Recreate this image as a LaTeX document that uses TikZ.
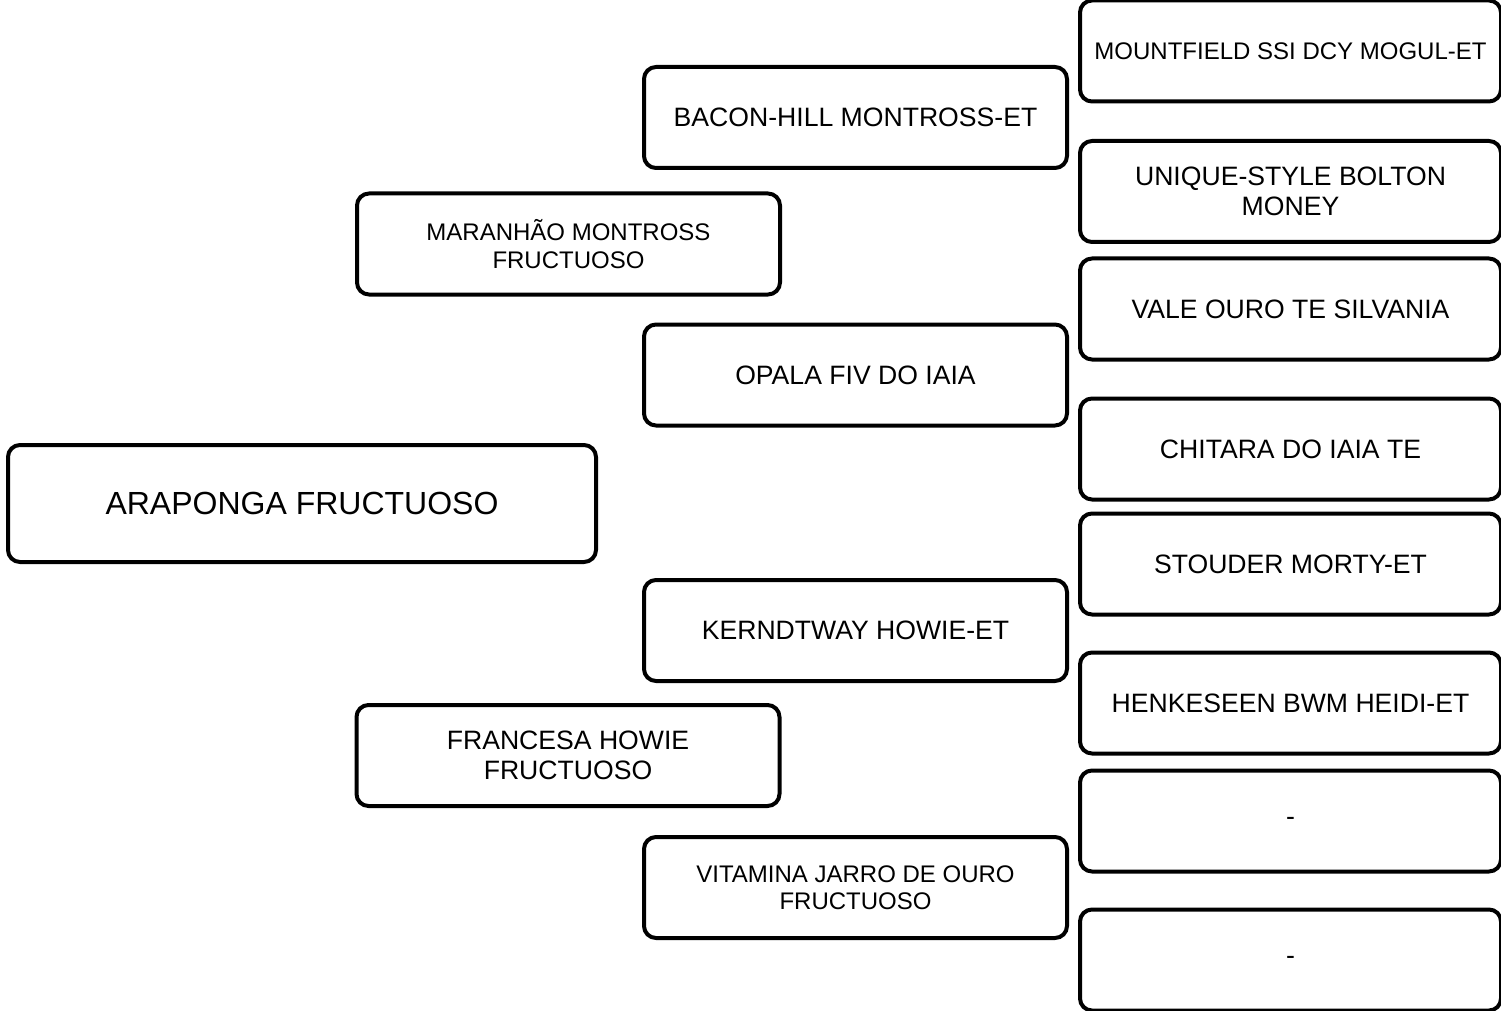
\documentclass[tikz,border=0pt]{standalone}
\usepackage{fontspec}
\setmainfont{Liberation Sans}
\usetikzlibrary{positioning}

\begin{document}
\begin{tikzpicture}[
		x=0.5pt, y=-0.5pt,
		animal/.style={draw=black, fill=white, rounded corners=6pt,
				line width=2pt, align=center, inner sep=2pt,
				minimum width=211.5pt, minimum height=50.5pt,
				font=\fontsize{13.3}{14.8}\selectfont},
		small/.style={font=\fontsize{12}{13.6}\selectfont},
		rootbox/.style={animal, minimum width=294pt, minimum height=58.5pt,
				font=\fontsize{16}{18}\selectfont},
	]
	\useasboundingbox (0,0) rectangle (1501,1011);

	% proband
	\node[rootbox] (araponga) at (302, 503.5) {ARAPONGA FRUCTUOSO};

	% parents
	\node[animal, small] (maranhao) at (568.5, 244) {MARANHÃO MONTROSS\\FRUCTUOSO};
	\node[animal] (francesa) at (568, 755.5) {FRANCESA HOWIE\\FRUCTUOSO};

	% grandparents
	\node[animal] (baconhill) at (855.5, 117.5) {BACON-HILL MONTROSS-ET};
	\node[animal] (opala) at (855.5, 375) {OPALA FIV DO IAIA};
	\node[animal] (kerndtway) at (855.5, 630.5) {KERNDTWAY HOWIE-ET};
	\node[animal, small] (vitamina) at (855.5, 887.5) {VITAMINA JARRO DE OURO\\FRUCTUOSO};

	% great-grandparents
	\node[animal, small, minimum width=210.5pt] (mountfield) at (1290.5, 51) {MOUNTFIELD SSI DCY MOGUL-ET};
	\node[animal, minimum width=210.5pt] (unique) at (1290.5, 191.5) {UNIQUE-STYLE BOLTON\\MONEY};
	\node[animal, minimum width=210.5pt] (vale) at (1290.5, 309) {VALE OURO TE SILVANIA};
	\node[animal, minimum width=210.5pt] (chitara) at (1290.5, 449) {CHITARA DO IAIA TE};
	\node[animal, minimum width=210.5pt] (stouder) at (1290.5, 564) {STOUDER MORTY-ET};
	\node[animal, minimum width=210.5pt] (henkeseen) at (1290.5, 703) {HENKESEEN BWM HEIDI-ET};
	\node[animal, minimum width=210.5pt] (unknowna) at (1290.5, 821) {-};
	\node[animal, minimum width=210.5pt] (unknownb) at (1290.5, 960) {-};

\end{tikzpicture}
\end{document}
